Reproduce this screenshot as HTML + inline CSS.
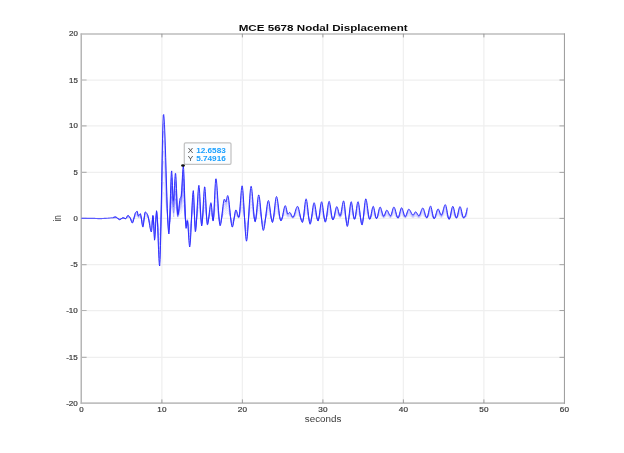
<!DOCTYPE html><html><head><meta charset="utf-8"><title>MCE 5678 Nodal Displacement</title>
<style>html,body{margin:0;padding:0;background:#fff}svg{display:block}text{font-family:"Liberation Sans",sans-serif}.t text{stroke:#3a3a3a;stroke-width:.18px}</style></head><body>
<svg width="624" height="453" viewBox="0 0 624 453">
<rect width="624" height="453" fill="#fff"/>
<path d="M161.9 33.8 V403.0 M242.4 33.8 V403.0 M322.9 33.8 V403.0 M403.4 33.8 V403.0 M483.9 33.8 V403.0" stroke="#f0f0f0" stroke-width="1.3" fill="none"/>
<path d="M81.4 357.4 H564.4 M81.4 310.5 H564.4 M81.4 264.6 H564.4 M81.4 218.4 H564.4 M81.4 172.4 H564.4 M81.4 125.9 H564.4 M81.4 80.0 H564.4" stroke="#efefef" stroke-width="1.25" fill="none"/>
<path d="M80.6 34.05 H565" stroke="#bcbcbc" stroke-width="1.55" fill="none"/>
<path d="M80.6 403.10 H565" stroke="#c0c0c0" stroke-width="1.55" fill="none"/>
<path d="M81.25 33.50 V403.80" stroke="#b6b6b6" stroke-width="1.5" fill="none"/>
<path d="M564.45 33.50 V403.80" stroke="#9e9e9e" stroke-width="1.05" fill="none"/>
<path d="M161.90 403.00 v-3.6 M161.90 33.80 v3.6 M242.40 403.00 v-3.6 M242.40 33.80 v3.6 M322.90 403.00 v-3.6 M322.90 33.80 v3.6 M403.40 403.00 v-3.6 M403.40 33.80 v3.6 M483.90 403.00 v-3.6 M483.90 33.80 v3.6" stroke="#8c8c8c" stroke-width="0.8" fill="none"/>
<path d="M82 357.35 h4.6 M82 310.50 h4.6 M82 264.65 h4.6 M82 218.40 h4.6 M82 172.40 h4.6 M82 125.90 h4.6 M82 80.00 h4.6" stroke="#b4b4b4" stroke-width="1.1" fill="none"/>
<path d="M564 357.35 h-4.5 M564 310.50 h-4.5 M564 264.65 h-4.5 M564 218.40 h-4.5 M564 172.40 h-4.5 M564 125.90 h-4.5 M564 80.00 h-4.5" stroke="#9c9c9c" stroke-width="0.9" fill="none"/>
<defs><path id="w" d="M112.5 217.7L112.9 217.5L113.3 217.4L113.7 217.3L114.1 217.1L114.5 217.0L114.9 217.0L115.3 216.9L115.7 216.9L116.1 217.1L116.5 217.3L116.9 217.6L117.3 218.0L117.7 218.4L118.1 218.8L118.5 219.1L118.9 219.4L119.3 219.6L119.7 219.7L120.1 219.6L120.5 219.4L120.9 219.1L121.3 218.8L121.7 218.5L122.1 218.1L122.5 217.9L122.9 217.8L123.3 217.8L123.7 217.9L124.1 218.1L124.5 218.3L124.9 218.4L125.3 218.6L125.7 218.6L126.1 218.3L126.5 217.6L126.9 216.8L127.3 216.0L127.7 215.5L128.1 215.4L128.5 215.6L128.9 216.0L129.3 216.5L129.7 217.1L130.1 217.7L130.5 218.6L130.9 219.9L131.3 221.2L131.7 222.3L132.1 223.0L132.5 223.0L132.9 222.3L133.3 221.0L133.7 219.4L134.1 217.6L134.5 215.8L134.9 214.3L135.3 213.0L135.7 212.4L136.1 211.9L136.5 211.5L136.9 211.3L137.3 211.3L137.7 213.2L138.1 215.4L138.5 215.7L138.9 215.3L139.3 214.7L139.7 214.1L140.1 213.7L140.5 213.8L140.9 215.4L141.3 218.1L141.7 221.1L142.1 224.1L142.5 226.2L142.9 227.1L143.3 225.9L143.7 222.9L144.1 219.0L144.5 215.3L144.9 212.6L145.3 211.9L145.7 212.1L146.1 212.4L146.5 212.9L146.9 213.5L147.3 214.2L147.7 214.9L148.1 216.4L148.5 218.3L148.9 220.6L149.3 223.1L149.7 225.6L150.1 228.0L150.5 229.9L150.9 231.3L151.3 232.0L151.7 230.4L152.1 225.2L152.5 219.1L152.9 215.4L153.3 217.5L153.7 225.5L154.1 234.6L154.5 240.2L154.9 238.7L155.3 232.0L155.7 223.3L156.1 215.2L156.5 210.7L156.9 212.1L157.3 218.2L157.7 227.5L158.1 238.4L158.5 249.3L158.9 258.6L159.3 264.7L159.7 266.0L160.1 259.4L160.5 245.7L160.9 226.8L161.3 204.7L161.7 181.4L162.1 158.8L162.5 138.9L162.9 123.7L163.3 115.2L163.7 114.5L164.1 118.1L164.5 124.8L164.9 134.0L165.3 145.1L165.7 157.5L166.1 170.7L166.5 184.0L166.9 196.8L167.3 208.6L167.7 218.9L168.1 226.9L168.5 232.1L168.9 234.0L169.3 230.2L169.7 220.6L170.1 207.6L170.5 193.6L170.9 181.2L171.3 172.8L171.7 170.9L172.1 176.3L172.5 185.7L172.9 195.1L173.3 200.5L173.7 199.2L174.1 193.5L174.5 185.7L174.9 178.3L175.3 173.4L175.7 173.5L176.1 179.2L176.5 188.4L176.9 198.8L177.3 208.0L177.7 213.7L178.1 214.2L178.5 211.9L178.9 208.3L179.3 204.2L179.7 200.5L180.1 198.2L180.5 197.6L180.9 197.3L181.3 196.0L181.7 190.7L182.1 183.0L182.5 174.8L182.9 168.4L183.3 165.8L183.7 169.3L184.1 178.2L184.5 190.4L184.9 203.8L185.3 216.0L185.7 224.9L186.1 228.4L186.5 226.5L186.9 222.9L187.3 221.0L187.7 222.9L188.1 227.7L188.5 234.0L188.9 240.3L189.3 245.1L189.7 247.0L190.1 245.1L190.5 239.9L190.9 232.4L191.3 223.5L191.7 214.1L192.1 205.2L192.5 197.7L192.9 192.5L193.3 190.6L193.7 194.5L194.1 204.0L194.5 215.7L194.9 226.1L195.3 231.7L195.7 231.0L196.1 227.1L196.5 221.1L196.9 213.6L197.3 205.7L197.7 198.0L198.1 191.5L198.5 187.0L198.9 185.3L199.3 187.6L199.7 193.4L200.1 201.3L200.5 210.0L200.9 217.9L201.3 223.7L201.7 226.0L202.1 224.1L202.5 219.1L202.9 212.1L203.3 204.2L203.7 196.7L204.1 190.5L204.5 186.9L204.9 187.0L205.3 191.3L205.7 198.4L206.1 206.8L206.5 215.0L206.9 221.5L207.3 224.8L207.7 224.6L208.1 222.8L208.5 220.0L208.9 216.6L209.3 212.9L209.7 209.3L210.1 206.1L210.5 203.8L210.9 202.7L211.3 203.6L211.7 207.4L212.1 212.6L212.5 217.6L212.9 220.8L213.3 220.7L213.7 216.2L214.1 208.8L214.5 199.8L214.9 190.9L215.3 183.5L215.7 179.0L216.1 178.7L216.5 181.0L216.9 185.2L217.3 190.7L217.7 197.1L218.1 203.8L218.5 210.4L218.9 216.4L219.3 221.3L219.7 224.6L220.1 225.8L220.5 225.1L220.9 223.4L221.3 220.7L221.7 217.5L222.1 213.8L222.5 210.1L222.9 206.6L223.3 203.4L223.7 201.0L224.1 199.5L224.5 199.1L224.9 199.9L225.3 201.2L225.7 202.0L226.1 201.6L226.5 200.0L226.9 198.0L227.3 196.2L227.7 195.5L228.1 196.2L228.5 198.0L228.9 200.8L229.3 204.3L229.7 208.3L230.1 212.4L230.5 216.4L230.9 220.2L231.3 223.4L231.7 225.7L232.1 227.0L232.5 227.0L232.9 225.9L233.3 223.9L233.7 221.4L234.1 218.5L234.5 215.7L234.9 213.2L235.3 211.2L235.7 210.1L236.1 210.0L236.5 210.7L236.9 211.9L237.3 213.3L237.7 214.8L238.1 216.0L238.5 216.9L238.9 217.0L239.3 215.2L239.7 211.4L240.1 206.4L240.5 200.7L240.9 195.2L241.3 190.4L241.7 187.1L242.1 185.8L242.5 187.1L242.9 190.6L243.3 195.9L243.7 202.4L244.1 209.7L244.5 217.3L244.9 224.6L245.3 231.1L245.7 236.4L246.1 239.9L246.5 241.2L246.9 240.0L247.3 236.8L247.7 231.9L248.1 225.8L248.5 219.0L248.9 211.9L249.3 204.8L249.7 198.3L250.1 192.8L250.5 188.7L250.9 186.4L251.3 186.4L251.7 188.3L252.1 191.7L252.5 196.2L252.9 201.3L253.3 206.7L253.7 211.8L254.1 216.3L254.5 219.7L254.9 221.6L255.3 221.7L255.7 219.9L256.1 216.8L256.5 212.8L256.9 208.3L257.3 203.9L257.7 199.9L258.1 196.8L258.5 195.0L258.9 195.0L259.3 196.5L259.7 199.1L260.1 202.7L260.5 206.9L260.9 211.5L261.3 216.1L261.7 220.5L262.1 224.5L262.5 227.6L262.9 229.7L263.3 230.5L263.7 230.0L264.1 228.5L264.5 226.3L264.9 223.5L265.3 220.3L265.7 216.8L266.1 213.3L266.5 209.9L266.9 206.8L267.3 204.1L267.7 202.0L268.1 200.8L268.5 200.5L268.9 201.4L269.3 203.3L269.7 206.0L270.1 209.0L270.5 212.3L270.9 215.5L271.3 218.4L271.7 220.7L272.1 222.1L272.5 222.5L272.9 221.4L273.3 219.3L273.7 216.3L274.1 212.8L274.5 209.0L274.9 205.3L275.3 201.9L275.7 199.1L276.1 197.2L276.5 196.5L276.9 197.1L277.3 198.6L277.7 201.0L278.1 203.9L278.5 207.1L278.9 210.4L279.3 213.6L279.7 216.5L280.1 218.9L280.5 220.4L280.9 221.0L281.3 220.6L281.7 219.7L282.1 218.2L282.5 216.4L282.9 214.3L283.3 212.3L283.7 210.2L284.1 208.4L284.5 206.9L284.9 206.0L285.3 205.6L285.7 206.1L286.1 207.5L286.5 209.2L286.9 211.1L287.3 212.7L287.7 213.7L288.1 213.8L288.5 213.4L288.9 213.0L289.3 212.6L289.7 212.4L290.1 212.6L290.5 213.1L290.9 213.9L291.3 214.8L291.7 215.6L292.1 216.4L292.5 216.9L292.9 217.1L293.3 216.9L293.7 216.2L294.1 215.3L294.5 214.1L294.9 212.8L295.3 211.3L295.7 210.0L296.1 208.7L296.5 207.6L296.9 206.8L297.3 206.4L297.7 206.4L298.1 207.0L298.5 208.0L298.9 209.5L299.3 211.3L299.7 213.2L300.1 215.1L300.5 217.1L300.9 218.9L301.3 220.4L301.7 221.6L302.1 222.3L302.5 222.4L302.9 221.3L303.3 219.0L303.7 215.8L304.1 212.1L304.5 208.3L304.9 204.7L305.3 201.6L305.7 199.6L306.1 198.8L306.5 199.5L306.9 201.5L307.3 204.3L307.7 207.8L308.1 211.6L308.5 215.3L308.9 218.8L309.3 221.6L309.7 223.6L310.1 224.3L310.5 223.7L310.9 222.1L311.3 219.6L311.7 216.7L312.1 213.5L312.5 210.3L312.9 207.4L313.3 204.9L313.7 203.3L314.1 202.7L314.5 203.2L314.9 204.7L315.3 206.8L315.7 209.4L316.1 212.2L316.5 215.0L316.9 217.5L317.3 219.4L317.7 220.7L318.1 221.0L318.5 220.0L318.9 218.0L319.3 215.3L319.7 212.2L320.1 209.0L320.5 206.0L320.9 203.6L321.3 202.1L321.7 201.7L322.1 202.7L322.5 204.7L322.9 207.5L323.3 210.7L323.7 214.0L324.1 217.1L324.5 219.7L324.9 221.5L325.3 222.2L325.7 221.6L326.1 219.8L326.5 217.3L326.9 214.2L327.3 210.9L327.7 207.7L328.1 204.9L328.5 202.7L328.9 201.5L329.3 201.4L329.7 202.6L330.1 204.5L330.5 207.0L330.9 209.9L331.3 212.8L331.7 215.6L332.1 217.9L332.5 219.4L332.9 220.0L333.3 219.6L333.7 218.5L334.1 217.0L334.5 215.1L334.9 213.0L335.3 211.0L335.7 209.2L336.1 207.7L336.5 206.8L336.9 206.6L337.3 207.2L337.7 208.3L338.1 209.7L338.5 211.4L338.9 213.0L339.3 214.4L339.7 215.3L340.1 215.7L340.5 215.2L340.9 213.7L341.3 211.6L341.7 209.2L342.1 206.7L342.5 204.3L342.9 202.3L343.3 201.1L343.7 200.9L344.1 202.1L344.5 204.6L344.9 208.1L345.3 212.1L345.7 216.2L346.1 220.1L346.5 223.4L346.9 225.7L347.3 226.5L347.7 225.8L348.1 223.8L348.5 220.9L348.9 217.4L349.3 213.6L349.7 209.9L350.1 206.5L350.5 203.8L350.9 202.1L351.3 201.7L351.7 202.8L352.1 204.9L352.5 207.7L352.9 210.9L353.3 214.0L353.7 216.7L354.1 218.6L354.5 219.3L354.9 218.7L355.3 217.0L355.7 214.5L356.1 211.6L356.5 208.6L356.9 205.8L357.3 203.5L357.7 202.1L358.1 201.7L358.5 202.7L358.9 204.7L359.3 207.5L359.7 210.8L360.1 214.3L360.5 217.7L360.9 220.8L361.3 223.2L361.7 224.7L362.1 225.0L362.5 223.9L362.9 221.4L363.3 218.0L363.7 214.0L364.1 209.9L364.5 205.9L364.9 202.5L365.3 200.0L365.7 198.9L366.1 199.1L366.5 200.5L366.9 202.8L367.3 205.6L367.7 208.7L368.1 211.8L368.5 214.7L368.9 217.1L369.3 218.7L369.7 219.3L370.1 218.8L370.5 217.6L370.9 215.8L371.3 213.6L371.7 211.4L372.1 209.3L372.5 207.7L372.9 206.6L373.3 206.3L373.7 207.1L374.1 208.5L374.5 210.5L374.9 212.7L375.3 214.9L375.7 216.8L376.1 218.1L376.5 218.6L376.9 218.2L377.3 217.1L377.7 215.6L378.1 213.8L378.5 211.8L378.9 210.0L379.3 208.5L379.7 207.4L380.1 207.0L380.5 207.3L380.9 208.1L381.3 209.4L381.7 210.8L382.1 212.3L382.5 213.7L382.9 215.0L383.3 215.8L383.7 216.1L384.1 215.8L384.5 215.1L384.9 214.1L385.3 213.0L385.7 211.8L386.1 210.9L386.5 210.3L386.9 210.1L387.3 210.4L387.7 210.9L388.1 211.7L388.5 212.6L388.9 213.5L389.3 214.3L389.7 215.0L390.1 215.5L390.5 215.7L390.9 215.4L391.3 214.5L391.7 213.2L392.1 211.7L392.5 210.2L392.9 208.8L393.3 207.7L393.7 207.1L394.1 207.1L394.5 207.6L394.9 208.6L395.3 209.9L395.7 211.4L396.1 213.0L396.5 214.5L396.9 215.9L397.3 217.0L397.7 217.6L398.1 217.8L398.5 217.3L398.9 216.2L399.3 214.8L399.7 213.2L400.1 211.5L400.5 210.0L400.9 208.7L401.3 207.9L401.7 207.7L402.1 208.2L402.5 209.1L402.9 210.3L403.3 211.7L403.7 213.1L404.1 214.5L404.5 215.5L404.9 216.2L405.3 216.4L405.7 216.0L406.1 215.3L406.5 214.3L406.9 213.1L407.3 211.9L407.7 210.8L408.1 209.9L408.5 209.3L408.9 209.2L409.3 209.4L409.7 209.9L410.1 210.5L410.5 211.2L410.9 212.0L411.3 212.8L411.7 213.6L412.1 214.2L412.5 214.7L412.9 215.0L413.3 214.9L413.7 214.5L414.1 213.9L414.5 213.1L414.9 212.4L415.3 211.9L415.7 211.8L416.1 212.0L416.5 212.5L416.9 213.1L417.3 213.8L417.7 214.5L418.1 215.1L418.5 215.5L418.9 215.7L419.3 215.5L419.7 214.9L420.1 214.0L420.5 212.9L420.9 211.7L421.3 210.5L421.7 209.5L422.1 208.7L422.5 208.1L422.9 208.0L423.3 208.4L423.7 209.2L424.1 210.4L424.5 211.7L424.9 213.2L425.3 214.6L425.7 215.8L426.1 216.8L426.5 217.4L426.9 217.6L427.3 217.0L427.7 215.9L428.1 214.3L428.5 212.5L428.9 210.6L429.3 208.9L429.7 207.4L430.1 206.4L430.5 206.0L430.9 206.4L431.3 207.6L431.7 209.3L432.1 211.3L432.5 213.3L432.9 215.3L433.3 217.0L433.7 218.2L434.1 218.6L434.5 218.3L434.9 217.6L435.3 216.5L435.7 215.2L436.1 213.7L436.5 212.3L436.9 211.0L437.3 209.9L437.7 209.2L438.1 208.9L438.5 209.2L438.9 209.9L439.3 210.8L439.7 212.0L440.1 213.1L440.5 214.0L440.9 214.7L441.3 215.0L441.7 214.7L442.1 213.9L442.5 212.8L442.9 211.3L443.3 209.8L443.7 208.3L444.1 206.8L444.5 205.7L444.9 204.9L445.3 204.6L445.7 205.1L446.1 206.3L446.5 208.1L446.9 210.2L447.3 212.5L447.7 214.8L448.1 216.8L448.5 218.3L448.9 219.2L449.3 219.2L449.7 218.4L450.1 217.0L450.5 215.1L450.9 213.1L451.3 211.0L451.7 209.1L452.1 207.5L452.5 206.5L452.9 206.3L453.3 206.9L453.7 208.1L454.1 209.7L454.5 211.6L454.9 213.5L455.3 215.2L455.7 216.7L456.1 217.6L456.5 217.8L456.9 217.2L457.3 216.0L457.7 214.5L458.1 212.7L458.5 210.8L458.9 209.1L459.3 207.7L459.7 206.8L460.1 206.6L460.5 207.2L460.9 208.3L461.3 209.9L461.7 211.6L462.1 213.5L462.5 215.1L462.9 216.5L463.3 217.4L463.7 217.6L464.1 217.4L464.5 217.1L464.9 216.4L465.3 215.6L465.7 214.5L466.1 213.2L466.5 211.6L466.9 209.8L467.3 207.7" vector-effect="non-scaling-stroke"/></defs>
<use href="#w" transform="translate(0 163.80) scale(1 0.25)" stroke="#2a2aff" stroke-opacity="0.12" stroke-width="0.7" fill="none" stroke-linejoin="round"/>
<use href="#w" transform="translate(0 141.96) scale(1 0.35)" stroke="#2a2aff" stroke-opacity="0.14" stroke-width="0.7" fill="none" stroke-linejoin="round"/>
<use href="#w" transform="translate(0 120.12) scale(1 0.45)" stroke="#2a2aff" stroke-opacity="0.16" stroke-width="0.7" fill="none" stroke-linejoin="round"/>
<use href="#w" transform="translate(0 98.28) scale(1 0.55)" stroke="#2a2aff" stroke-opacity="0.20" stroke-width="0.7" fill="none" stroke-linejoin="round"/>
<use href="#w" transform="translate(0 76.44) scale(1 0.65)" stroke="#2a2aff" stroke-opacity="0.22" stroke-width="0.7" fill="none" stroke-linejoin="round"/>
<use href="#w" transform="translate(0 54.60) scale(1 0.75)" stroke="#2a2aff" stroke-opacity="0.25" stroke-width="0.7" fill="none" stroke-linejoin="round"/>
<use href="#w" transform="translate(0 34.94) scale(1 0.84)" stroke="#2a2aff" stroke-opacity="0.30" stroke-width="0.7" fill="none" stroke-linejoin="round"/>
<use href="#w" transform="translate(0 17.47) scale(1 0.92)" stroke="#2a2aff" stroke-opacity="0.38" stroke-width="0.7" fill="none" stroke-linejoin="round"/>
<path d="M169.6 226L171.7 186L173.6 213L175.6 191L177.6 217L180.4 204L183.2 178L185.6 222" stroke="#2a2aff" stroke-opacity="0.30" stroke-width="0.7" fill="none" stroke-linejoin="round"/>
<path d="M169.9 224L171.8 196L173.7 217L175.6 199L177.5 216L180.5 208L183.2 188L185.3 221" stroke="#2a2aff" stroke-opacity="0.25" stroke-width="0.7" fill="none" stroke-linejoin="round"/>
<path d="M170.2 222L171.8 178L173.5 207L175.6 182L177.7 215L180.3 201L183.2 172L185.8 222" stroke="#2a2aff" stroke-opacity="0.30" stroke-width="0.7" fill="none" stroke-linejoin="round"/>
<path d="M81.3 218.3L81.7 218.3L82.1 218.3L82.5 218.3L82.9 218.3L83.3 218.3L83.7 218.3L84.1 218.3L84.5 218.3L84.9 218.3L85.3 218.3L85.7 218.3L86.1 218.3L86.5 218.3L86.9 218.3L87.3 218.3L87.7 218.3L88.1 218.3L88.5 218.3L88.9 218.3L89.3 218.3L89.7 218.3L90.1 218.3L90.5 218.3L90.9 218.3L91.3 218.3L91.7 218.3L92.1 218.3L92.5 218.3L92.9 218.4L93.3 218.4L93.7 218.4L94.1 218.4L94.5 218.4L94.9 218.4L95.3 218.5L95.7 218.5L96.1 218.5L96.5 218.5L96.9 218.5L97.3 218.5L97.7 218.6L98.1 218.6L98.5 218.6L98.9 218.6L99.3 218.6L99.7 218.6L100.1 218.6L100.5 218.6L100.9 218.6L101.3 218.6L101.7 218.6L102.1 218.5L102.5 218.5L102.9 218.5L103.3 218.5L103.7 218.5L104.1 218.4L104.5 218.4L104.9 218.4L105.3 218.3L105.7 218.3L106.1 218.3L106.5 218.3L106.9 218.2L107.3 218.2L107.7 218.2L108.1 218.2L108.5 218.1L108.9 218.1L109.3 218.1L109.7 218.0L110.1 218.0L110.5 218.0L110.9 217.9L111.3 217.9L111.7 217.8L112.1 217.7" stroke="#5c5cff" stroke-width="1.15" fill="none" stroke-linejoin="round"/>
<use href="#w" stroke="#2626ff" stroke-width="0.92" fill="none" stroke-linejoin="round"/>
<g class="t">
<text x="81.4" y="412.1" font-size="6.6" fill="#3a3a3a" text-anchor="middle" textLength="4.4" lengthAdjust="spacingAndGlyphs">0</text>
<text x="161.9" y="412.1" font-size="6.6" fill="#3a3a3a" text-anchor="middle" textLength="9.1" lengthAdjust="spacingAndGlyphs">10</text>
<text x="242.4" y="412.1" font-size="6.6" fill="#3a3a3a" text-anchor="middle" textLength="9.1" lengthAdjust="spacingAndGlyphs">20</text>
<text x="322.9" y="412.1" font-size="6.6" fill="#3a3a3a" text-anchor="middle" textLength="9.1" lengthAdjust="spacingAndGlyphs">30</text>
<text x="403.4" y="412.1" font-size="6.6" fill="#3a3a3a" text-anchor="middle" textLength="9.1" lengthAdjust="spacingAndGlyphs">40</text>
<text x="483.9" y="412.1" font-size="6.6" fill="#3a3a3a" text-anchor="middle" textLength="9.1" lengthAdjust="spacingAndGlyphs">50</text>
<text x="564.4" y="412.1" font-size="6.6" fill="#3a3a3a" text-anchor="middle" textLength="9.1" lengthAdjust="spacingAndGlyphs">60</text>
<text x="77.8" y="405.5" font-size="6.6" fill="#3a3a3a" text-anchor="end" textLength="11.6" lengthAdjust="spacingAndGlyphs">-20</text>
<text x="77.8" y="359.9" font-size="6.6" fill="#3a3a3a" text-anchor="end" textLength="11.6" lengthAdjust="spacingAndGlyphs">-15</text>
<text x="77.8" y="313.0" font-size="6.6" fill="#3a3a3a" text-anchor="end" textLength="11.6" lengthAdjust="spacingAndGlyphs">-10</text>
<text x="77.8" y="267.1" font-size="6.6" fill="#3a3a3a" text-anchor="end" textLength="7.2" lengthAdjust="spacingAndGlyphs">-5</text>
<text x="77.8" y="220.9" font-size="6.6" fill="#3a3a3a" text-anchor="end" textLength="4.3" lengthAdjust="spacingAndGlyphs">0</text>
<text x="77.8" y="174.9" font-size="6.6" fill="#3a3a3a" text-anchor="end" textLength="4.3" lengthAdjust="spacingAndGlyphs">5</text>
<text x="77.8" y="128.4" font-size="6.6" fill="#3a3a3a" text-anchor="end" textLength="8.8" lengthAdjust="spacingAndGlyphs">10</text>
<text x="77.8" y="82.5" font-size="6.6" fill="#3a3a3a" text-anchor="end" textLength="8.8" lengthAdjust="spacingAndGlyphs">15</text>
<text x="77.8" y="36.3" font-size="6.6" fill="#3a3a3a" text-anchor="end" textLength="8.8" lengthAdjust="spacingAndGlyphs">20</text>
</g>
<text x="323.1" y="421.8" font-size="8.3" fill="#3a3a3a" text-anchor="middle" textLength="36.5" lengthAdjust="spacingAndGlyphs">seconds</text>
<g transform="translate(60.9 218.3) scale(1.33 1) rotate(-90)"><text x="0" y="0" font-size="8" fill="#3a3a3a" text-anchor="middle">in</text></g>
<text x="323.2" y="30.7" font-size="9" font-weight="bold" fill="#0c0c0c" text-anchor="middle" textLength="169.0" lengthAdjust="spacingAndGlyphs">MCE 5678 Nodal Displacement</text>
<rect x="184.3" y="142.8" width="46.7" height="21.5" rx="1.3" fill="#fbfdff" stroke="#c2c2c2" stroke-width="1.25"/>
<text x="187.8" y="152.6" font-size="6.4" fill="#444" textLength="5.5" lengthAdjust="spacingAndGlyphs">X</text>
<text x="196.2" y="152.6" font-size="6.4" font-weight="bold" fill="#1aa0ff" textLength="29.6" lengthAdjust="spacingAndGlyphs">12.6583</text>
<text x="187.8" y="160.7" font-size="6.4" fill="#444" textLength="5.5" lengthAdjust="spacingAndGlyphs">Y</text>
<text x="196.2" y="160.7" font-size="6.4" font-weight="bold" fill="#1aa0ff" textLength="29.6" lengthAdjust="spacingAndGlyphs">5.74916</text>
<ellipse cx="183.0" cy="165.5" rx="1.9" ry="1.3" fill="#111"/>
</svg></body></html>
